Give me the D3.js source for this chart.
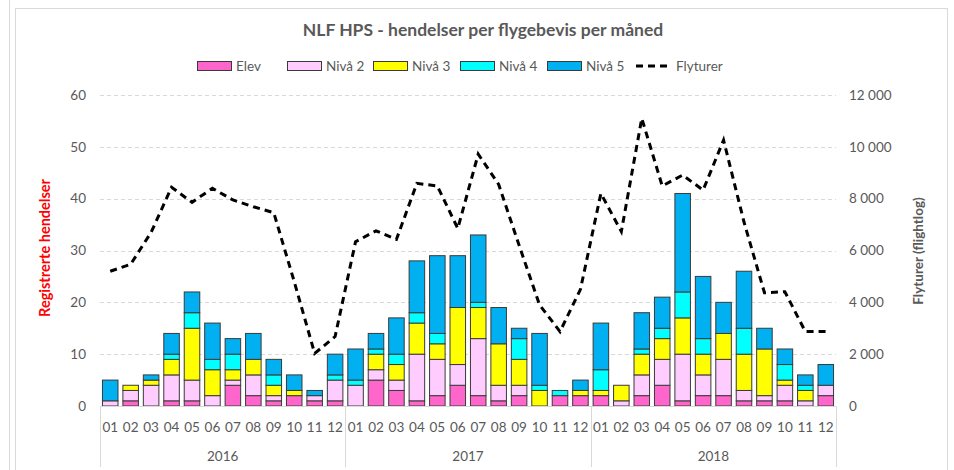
<!DOCTYPE html>
<html>
<head>
<meta charset="utf-8">
<script src="https://cdn.jsdelivr.net/npm/d3@7"></script>
<style>
  body { margin: 0; background: #fff; }
  svg { display: block; font-family: Lato, "Liberation Sans", sans-serif; }
</style>
</head>
<body>
<svg id="chart"></svg>
<script>
const years = ["2016", "2017", "2018"];
const months = ["01", "02", "03", "04", "05", "06", "07", "08", "09", "10", "11", "12"];

const elev = [0, 1, 0, 1, 1, 0, 4, 2, 1, 2, 1, 1,
              0, 5, 3, 1, 2, 4, 2, 1, 2, 0, 2, 2,
              2, 0, 2, 4, 1, 2, 2, 1, 1, 1, 0, 2];
const niva2 = [1, 2, 4, 5, 4, 2, 1, 4, 1, 0, 1, 4,
               4, 2, 2, 9, 7, 4, 11, 3, 2, 0, 0, 0,
               0, 1, 4, 5, 9, 4, 7, 2, 1, 3, 1, 2];
const niva3 = [0, 1, 1, 3, 10, 5, 2, 3, 2, 1, 0, 0,
               0, 3, 3, 6, 3, 11, 6, 8, 5, 3, 0, 1,
               1, 3, 4, 4, 7, 4, 5, 7, 9, 1, 2, 0];
const niva4 = [0, 0, 0, 1, 3, 2, 3, 0, 2, 0, 0, 1,
               1, 1, 2, 2, 2, 0, 1, 0, 4, 1, 1, 0,
               4, 0, 1, 2, 5, 3, 0, 5, 0, 3, 1, 0];
const niva5 = [4, 0, 1, 4, 4, 7, 3, 5, 3, 3, 1, 4,
               6, 3, 7, 10, 15, 10, 13, 7, 2, 10, 0, 2,
               9, 0, 7, 6, 19, 12, 6, 11, 4, 3, 2, 4];
const flyturer = [5200, 5470, 6700, 8440, 7860, 8400, 7950, 7690, 7460, 4800, 2030, 2680,
                  6340, 6760, 6430, 8590, 8490, 6850, 9720, 8550, 6200, 3900, 2870, 4500,
                  8200, 6730, 11100, 8490, 8910, 8330, 10260, 7100, 4370, 4410, 2870, 2870];

const leftTicks = [0, 10, 20, 30, 40, 50, 60];
const rightTicks = [0, 2000, 4000, 6000, 8000, 10000, 12000];

const seriesNames = ["Elev", "Nivå 2", "Nivå 3", "Nivå 4", "Nivå 5"];
const seriesColors = ["#ff66cc", "#ffccff", "#ffff00", "#00ffff", "#00b0f0"];

const width = 954, height = 470;
const plotLeft = 100, plotRight = 836, plotTop = 95, plotBottom = 406;

const svg = d3.select("#chart").attr("width", width).attr("height", height);

// chart frame
svg.append("line").attr("x1", 9.5).attr("x2", 9.5).attr("y1", 0).attr("y2", height)
  .attr("stroke", "#d9d9d9");
svg.append("rect").attr("x", 15.5).attr("y", 8.5).attr("width", 932).attr("height", 480)
  .attr("fill", "none").attr("stroke", "#d9d9d9");

// rows for stacking
const keys = ["elev", "niva2", "niva3", "niva4", "niva5"];
const rows = [];
years.forEach((yr, yi) => {
  months.forEach((m, mi) => {
    const i = yi * 12 + mi;
    rows.push({id: yr + "-" + m, year: yr, month: m,
      elev: elev[i], niva2: niva2[i], niva3: niva3[i], niva4: niva4[i], niva5: niva5[i],
      fly: flyturer[i]});
  });
});

const x = d3.scaleBand()
  .domain(rows.map(d => d.id))
  .range([plotLeft, plotRight])
  .paddingInner(0.24)
  .paddingOuter(0.12);

const y = d3.scaleLinear().domain([0, 60]).range([plotBottom, plotTop]);
const y2 = d3.scaleLinear().domain([0, 12000]).range([plotBottom, plotTop]);

// gridlines
svg.append("g")
  .selectAll("line")
  .data(leftTicks.filter(t => t > 0))
  .enter()
  .append("line")
    .attr("x1", plotLeft).attr("x2", plotRight)
    .attr("y1", d => Math.round(y(d)) + 0.5)
    .attr("y2", d => Math.round(y(d)) + 0.5)
    .attr("stroke", "#d9d9d9")
    .attr("stroke-dasharray", "4,3");

// left axis labels
const leftAxis = svg.append("g")
  .attr("transform", `translate(${plotLeft - 6},0)`)
  .call(d3.axisLeft(y).tickValues(leftTicks).tickSize(0).tickPadding(8));
leftAxis.select(".domain").remove();
leftAxis.selectAll("text").attr("fill", "#595959").attr("font-size", 13.5)
  .attr("font-family", "Lato, sans-serif");

// right axis labels
const fmt = d => d3.format(",")(d).replace(/,/g, " ");
const rightAxis = svg.append("g")
  .attr("transform", `translate(${plotRight + 5},0)`)
  .call(d3.axisRight(y2).tickValues(rightTicks).tickSize(0).tickPadding(8).tickFormat(fmt));
rightAxis.select(".domain").remove();
rightAxis.selectAll("text").attr("fill", "#595959").attr("font-size", 13.5)
  .attr("font-family", "Lato, sans-serif");

// stacked bars
const stack = d3.stack().keys(keys)(rows);
const layers = svg.append("g")
  .selectAll("g")
  .data(stack)
  .enter()
  .append("g")
    .attr("fill", (d, i) => seriesColors[i]);

layers.selectAll("rect")
  .data(d => d.filter(s => s[1] - s[0] > 0))
  .enter()
  .append("rect")
    .attr("x", d => x(d.data.id))
    .attr("y", d => y(d[1]))
    .attr("width", x.bandwidth())
    .attr("height", d => y(d[0]) - y(d[1]))
    .attr("stroke", "#3a3a3a")
    .attr("stroke-width", 1);

// category axis
svg.append("line").attr("x1", plotLeft).attr("x2", plotRight)
  .attr("y1", plotBottom + 0.5).attr("y2", plotBottom + 0.5).attr("stroke", "#d9d9d9");

svg.append("g")
  .selectAll("text")
  .data(rows)
  .enter()
  .append("text")
    .attr("x", d => x(d.id) + x.bandwidth() / 2)
    .attr("y", 432)
    .attr("text-anchor", "middle")
    .attr("font-size", 13.5)
    .attr("fill", "#595959")
    .text(d => d.month);

const yearEdges = years.map(yr => x(yr + "-01") - x.step() * x.paddingInner() / 2);
yearEdges.push(plotRight);
svg.append("g")
  .selectAll("line")
  .data(yearEdges)
  .enter()
  .append("line")
    .attr("x1", d => Math.round(d) + 0.5).attr("x2", d => Math.round(d) + 0.5)
    .attr("y1", plotBottom).attr("y2", 467)
    .attr("stroke", "#d9d9d9");

svg.append("g")
  .selectAll("text")
  .data(years)
  .enter()
  .append("text")
    .attr("x", (d, i) => (yearEdges[i] + yearEdges[i + 1]) / 2)
    .attr("y", 461)
    .attr("text-anchor", "middle")
    .attr("font-size", 13.5)
    .attr("fill", "#595959")
    .text(d => d);

// flyturer line
const line = d3.line()
  .x(d => x(d.id) + x.bandwidth() / 2)
  .y(d => y2(d.fly));

svg.append("path")
  .datum(rows)
  .attr("d", line)
  .attr("fill", "none")
  .attr("stroke", "#000")
  .attr("stroke-width", 3)
  .attr("stroke-dasharray", "7,5");

// title
svg.append("text")
  .attr("x", 483).attr("y", 36)
  .attr("text-anchor", "middle")
  .attr("font-size", 17.5)
  .attr("font-weight", "bold")
  .attr("fill", "#595959")
  .text("NLF HPS - hendelser per flygebevis per måned");

// axis titles
svg.append("text")
  .attr("transform", "translate(50,248) rotate(-90)")
  .attr("text-anchor", "middle")
  .attr("font-size", 14.5)
  .attr("font-weight", "bold")
  .attr("fill", "#ff0000")
  .text("Registrerte hendelser");

svg.append("text")
  .attr("transform", "translate(923,251) rotate(-90)")
  .attr("text-anchor", "middle")
  .attr("font-size", 13.5)
  .attr("font-weight", "bold")
  .attr("fill", "#595959")
  .text("Flyturer (flightlog)");

// legend
const legendX = [197, 287, 373, 460, 547];
const legend = svg.append("g");
seriesNames.forEach((name, i) => {
  legend.append("rect")
    .attr("x", legendX[i] + 0.5).attr("y", 61.5)
    .attr("width", 34).attr("height", 9)
    .attr("fill", seriesColors[i])
    .attr("stroke", "#3a3a3a");
  legend.append("text")
    .attr("x", legendX[i] + 39).attr("y", 71)
    .attr("font-size", 13.5)
    .attr("fill", "#595959")
    .text(name);
});
legend.append("line")
  .attr("x1", 636).attr("x2", 668).attr("y1", 66).attr("y2", 66)
  .attr("stroke", "#000").attr("stroke-width", 3).attr("stroke-dasharray", "7,5");
legend.append("text")
  .attr("x", 676).attr("y", 71)
  .attr("font-size", 13.5)
  .attr("fill", "#595959")
  .text("Flyturer");
</script>
</body>
</html>
